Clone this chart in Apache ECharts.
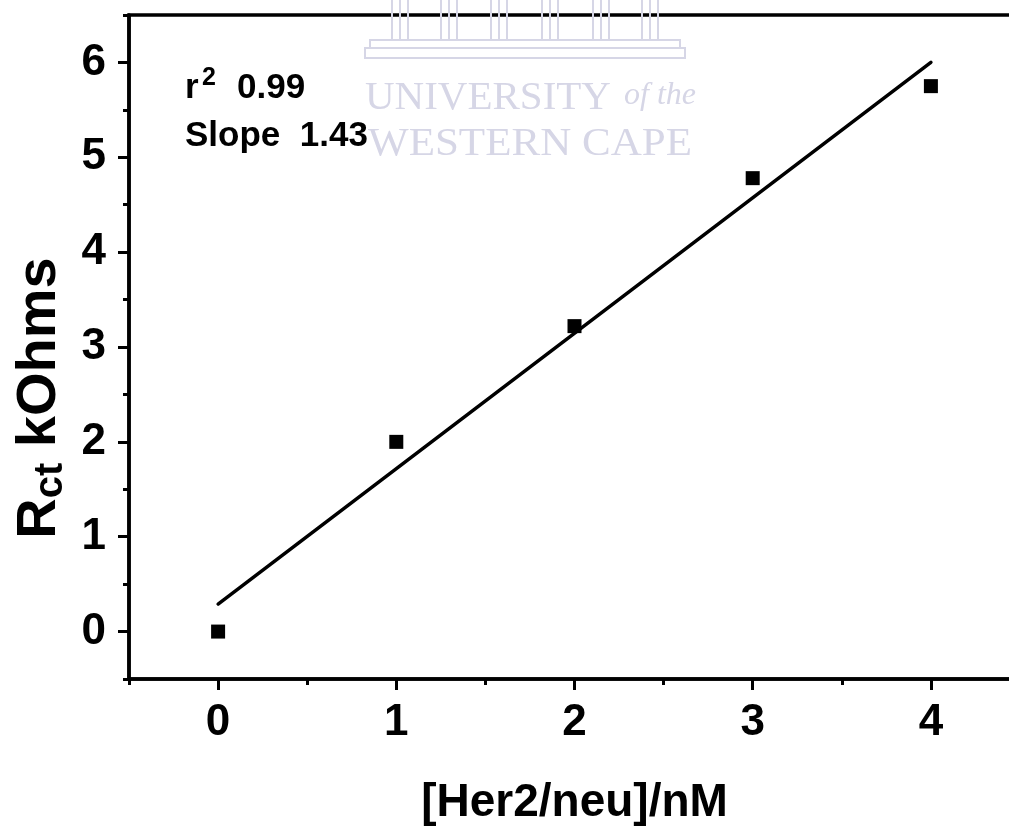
<!DOCTYPE html>
<html>
<head>
<meta charset="utf-8">
<script src="https://cdn.jsdelivr.net/npm/echarts@6/dist/echarts.min.js"></script>
<style>
  html, body { margin: 0; padding: 0; background: #fff; overflow: hidden; }
  /* the frame's right edge runs just past the page edge */
  #chart { width: 1024px; height: 831px; }
</style>
</head>
<body>
<div id="chart"></div>
<script>
// Her2/neu concentration (nM) vs charge-transfer resistance (kOhms)
const concentrations = [0, 1, 2, 3, 4];
const rctValues = [0.0, 2.0, 3.22, 4.78, 5.75];

// Linear fit drawn across the measured range
const fitX = [0, 4];
const fitY = [0.29, 6.0];

const xTickValues = [0, 1, 2, 3, 4];
const yTickValues = [0, 1, 2, 3, 4, 5, 6];

const fitStats = { r2: '0.99', slope: '1.43' };

const FONT = '"Liberation Sans", Arial, Helvetica, sans-serif';
const SERIF = '"Liberation Serif", "Times New Roman", serif';
const WM = '#d6d6e6';

const chart = echarts.init(document.getElementById('chart'), null, { renderer: 'canvas' });

const gridBox = { left: 129, top: 15, width: 891, height: 665 };

// University crest: six columns standing on a stepped base
const columnCentres = [400, 449, 499, 550, 601, 650];
const crest = [];
columnCentres.forEach(c => {
  crest.push({ type: 'rect', shape: { x: c - 8, y: -2, width: 16, height: 42 },
    style: { fill: null, stroke: WM, lineWidth: 2 } });
  crest.push({ type: 'line', shape: { x1: c, y1: -2, x2: c, y2: 40 },
    style: { stroke: WM, lineWidth: 2 } });
});
crest.push({ type: 'rect', shape: { x: 370, y: 40, width: 310, height: 8 },
  style: { fill: null, stroke: WM, lineWidth: 2 } });
crest.push({ type: 'rect', shape: { x: 365, y: 48, width: 320, height: 10 },
  style: { fill: null, stroke: WM, lineWidth: 2 } });

const boldText = (size) => ({ fontFamily: FONT, fontWeight: 'bold', fontSize: size, fill: '#000' });

const option = {
  backgroundColor: '#fff',
  animation: false,
  grid: Object.assign({ show: true, borderColor: '#000', borderWidth: 3.5, backgroundColor: 'transparent' }, gridBox),
  xAxis: [
    {
      type: 'value', min: -0.5, max: 4.5, position: 'bottom',
      axisLine: { show: true, onZero: false, lineStyle: { color: '#000', width: 3.5 } },
      axisTick: { show: true, inside: false, length: 11, lineStyle: { color: '#000', width: 3 }, customValues: xTickValues },
      axisLabel: { show: true, customValues: xTickValues, margin: 22, color: '#000', fontFamily: FONT, fontWeight: 'bold', fontSize: 44 },
      splitLine: { show: false },
      name: '[Her2/neu]/nM', nameLocation: 'middle', nameGap: 101,
      nameTextStyle: { color: '#000', fontFamily: FONT, fontWeight: 'bold', fontSize: 46 }
    },
    {
      // half-unit minor ticks
      type: 'value', min: -0.5, max: 4.5, interval: 0.5, gridIndex: 0, position: 'bottom',
      axisLine: { show: false, onZero: false },
      axisTick: { show: true, inside: false, length: 6, lineStyle: { color: '#000', width: 3 } },
      axisLabel: { show: false }, splitLine: { show: false }
    }
  ],
  yAxis: [
    {
      type: 'value', min: -0.5, max: 6.5, position: 'left',
      axisLine: { show: true, onZero: false, lineStyle: { color: '#000', width: 3.5 } },
      axisTick: { show: true, inside: false, length: 11, lineStyle: { color: '#000', width: 3 }, customValues: yTickValues },
      axisLabel: { show: true, customValues: yTickValues, margin: 23, color: '#000', fontFamily: FONT, fontWeight: 'bold', fontSize: 44 },
      splitLine: { show: false }
    },
    {
      type: 'value', min: -0.5, max: 6.5, interval: 0.5, gridIndex: 0, position: 'left',
      axisLine: { show: false, onZero: false },
      axisTick: { show: true, inside: false, length: 6, lineStyle: { color: '#000', width: 3 } },
      axisLabel: { show: false }, splitLine: { show: false }
    }
  ],
  series: [
    {
      type: 'line', xAxisIndex: 0, yAxisIndex: 0,
      data: fitX.map((x, i) => [x, fitY[i]]),
      showSymbol: false, symbol: 'none',
      lineStyle: { color: '#000', width: 3.5, cap: 'round' },
      silent: true, z: 3
    },
    {
      type: 'scatter', xAxisIndex: 0, yAxisIndex: 0,
      data: concentrations.map((x, i) => [x, rctValues[i]]),
      symbol: 'rect', symbolSize: 14,
      itemStyle: { color: '#000', opacity: 1 }, z: 4
    }
  ],
  graphic: [
    { type: 'group', silent: true, z: 0, children: crest.concat([
      { type: 'text', x: 365, y: 78,
        style: { text: 'UNIVERSITY', font: '41px ' + SERIF, fill: WM } },
      { type: 'text', x: 624, y: 80,
        style: { text: 'of the', font: 'italic 32px ' + SERIF, fill: WM } },
      { type: 'text', x: 368, y: 124, scaleX: 1.05,
        style: { text: 'WESTERN CAPE', font: '41px ' + SERIF, fill: WM } }
    ]) },
    { type: 'text', x: 185, y: 106, z: 10,
      style: Object.assign({ text: 'r', verticalAlign: 'bottom' }, boldText(35)) },
    { type: 'text', x: 202, y: 66, z: 10,
      style: Object.assign({ text: '2', verticalAlign: 'top' }, boldText(25)) },
    { type: 'text', x: 237, y: 106, z: 10,
      style: Object.assign({ text: fitStats.r2, verticalAlign: 'bottom' }, boldText(35)) },
    { type: 'text', x: 185, y: 154, z: 10,
      style: Object.assign({ text: 'Slope  ' + fitStats.slope, verticalAlign: 'bottom' }, boldText(35)) },
    {
      type: 'text', x: 40, y: 398, rotation: Math.PI / 2, z: 10,
      style: {
        text: '{n|R}{s|ct}{n| kOhms}',
        align: 'center', verticalAlign: 'middle',
        rich: {
          n: { fontFamily: FONT, fontWeight: 'bold', fontSize: 56, fill: '#000', lineHeight: 62, verticalAlign: 'middle' },
          s: { fontFamily: FONT, fontWeight: 'bold', fontSize: 40, fill: '#000', lineHeight: 40, verticalAlign: 'bottom' }
        }
      }
    }
  ]
};

chart.setOption(option);
</script>
</body>
</html>
